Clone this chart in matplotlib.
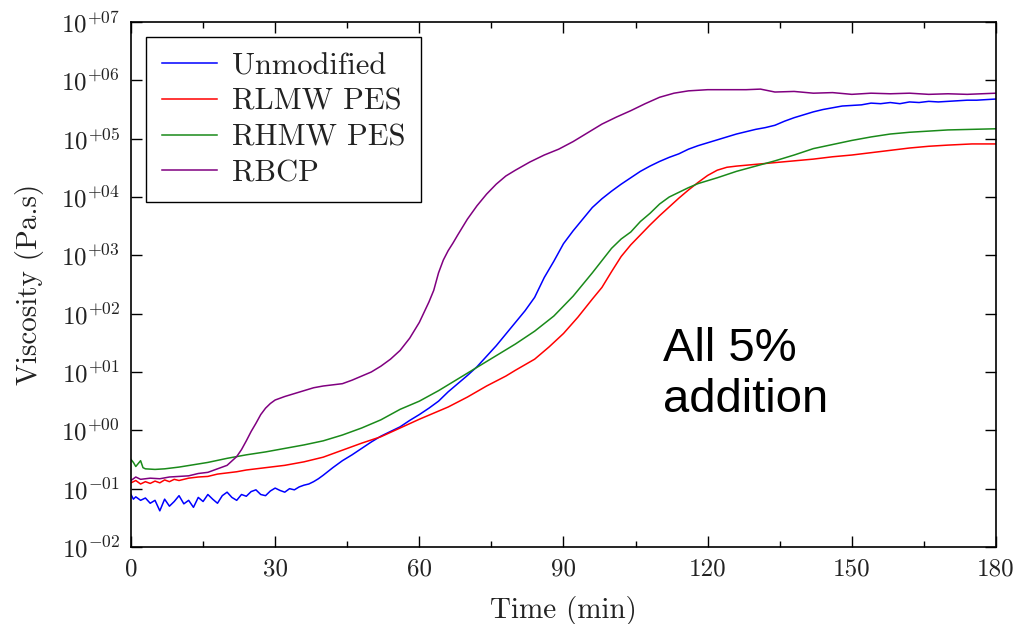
import numpy
import matplotlib
matplotlib.use("Agg")
import matplotlib.pyplot as plt
from matplotlib.ticker import FixedLocator, FuncFormatter

# time (min) and log10 of viscosity (Pa.s)
t_unmod = [0, 0.5, 1, 2, 3, 4, 5, 6, 7, 8, 9, 10, 11, 12, 13, 14, 15, 16, 17, 18, 19,
           20, 21, 22, 23, 24, 25, 26, 27, 28, 29, 30, 31, 32, 33, 34, 35, 36, 37, 38,
           39, 40, 42, 44, 46, 48, 50, 52, 54, 56, 58, 60, 62, 64, 66, 68, 70, 72, 74,
           76, 78, 80, 82, 84, 86, 88, 90, 92, 94, 96, 98, 100, 102, 104, 106, 108, 110,
           112, 114, 116, 118, 120, 122, 124, 126, 128, 130, 132, 134, 136, 138, 140,
           142, 144, 146, 148, 150, 152, 154, 156, 158, 160, 162, 164, 166, 168, 170,
           172, 174, 176, 178, 180]
log_unmod = [-1.10, -1.18, -1.14, -1.20, -1.16, -1.25, -1.20, -1.38, -1.18, -1.30, -1.22,
             -1.12, -1.26, -1.20, -1.32, -1.15, -1.22, -1.10, -1.18, -1.25, -1.12, -1.06,
             -1.15, -1.20, -1.10, -1.13, -1.05, -1.02, -1.10, -1.12, -1.04, -0.99, -1.03,
             -1.06, -1.00, -1.02, -0.97, -0.94, -0.92, -0.88, -0.83, -0.77, -0.64, -0.52,
             -0.42, -0.31, -0.20, -0.10, -0.02, 0.06, 0.17, 0.27, 0.38, 0.50, 0.66, 0.80,
             0.94, 1.09, 1.27, 1.45, 1.65, 1.85, 2.05, 2.28, 2.62, 2.90, 3.20, 3.42, 3.62,
             3.82, 3.97, 4.10, 4.22, 4.33, 4.44, 4.53, 4.61, 4.68, 4.74, 4.82, 4.88, 4.93,
             4.98, 5.03, 5.08, 5.12, 5.16, 5.19, 5.23, 5.30, 5.36, 5.41, 5.46, 5.50, 5.53,
             5.56, 5.57, 5.58, 5.61, 5.60, 5.62, 5.60, 5.63, 5.62, 5.64, 5.63, 5.64, 5.65,
             5.66, 5.66, 5.67, 5.68]

t_rlmw = [0, 1, 2, 3, 4, 5, 6, 7, 8, 9, 10, 12, 14, 16, 18, 20, 22, 24, 26, 28, 30, 32,
          34, 36, 38, 40, 44, 48, 52, 56, 60, 64, 66, 70, 74, 78, 80, 84, 87, 90, 93, 96,
          98, 100, 102, 104, 106, 108, 110, 112, 114, 116, 118, 120, 122, 124, 126, 130,
          134, 138, 142, 146, 150, 154, 158, 162, 166, 170, 175, 180]
log_rlmw = [-0.90, -0.86, -0.92, -0.88, -0.91, -0.87, -0.90, -0.85, -0.88, -0.84, -0.86,
            -0.82, -0.80, -0.79, -0.75, -0.73, -0.71, -0.68, -0.66, -0.64, -0.62, -0.60,
            -0.57, -0.54, -0.50, -0.46, -0.34, -0.22, -0.11, 0.04, 0.19, 0.33, 0.40, 0.57,
            0.76, 0.93, 1.03, 1.22, 1.43, 1.66, 1.94, 2.25, 2.45, 2.72, 2.98, 3.18, 3.35,
            3.52, 3.68, 3.83, 3.98, 4.12, 4.25, 4.37, 4.46, 4.51, 4.53, 4.56, 4.59, 4.62,
            4.65, 4.69, 4.72, 4.76, 4.80, 4.84, 4.87, 4.89, 4.91, 4.91]

t_rhmw = [0, 0.5, 1, 1.5, 2, 2.5, 3, 5, 7, 10, 13, 16, 20, 24, 28, 32, 36, 40, 44, 48, 52,
          56, 60, 64, 68, 72, 76, 80, 84, 88, 92, 96, 100, 102, 104, 106, 108, 110, 112,
          114, 116, 118, 122, 126, 130, 134, 138, 142, 146, 150, 154, 158, 162, 166, 170,
          175, 180]
log_rhmw = [-0.50, -0.55, -0.62, -0.57, -0.52, -0.64, -0.66, -0.67, -0.66, -0.63, -0.59,
            -0.55, -0.48, -0.42, -0.37, -0.31, -0.25, -0.18, -0.08, 0.04, 0.18, 0.36, 0.50,
            0.68, 0.88, 1.08, 1.28, 1.48, 1.70, 1.96, 2.30, 2.70, 3.12, 3.28, 3.40, 3.58,
            3.72, 3.88, 4.00, 4.08, 4.16, 4.23, 4.33, 4.44, 4.53, 4.62, 4.72, 4.83, 4.90,
            4.97, 5.03, 5.08, 5.11, 5.13, 5.15, 5.16, 5.17]

t_rbcp = [0, 1, 2, 4, 6, 8, 10, 12, 14, 16, 18, 20, 22, 23, 24, 25, 26, 27, 28, 29, 30, 32,
          34, 36, 38, 40, 42, 44, 46, 48, 50, 52, 54, 56, 58, 60, 62, 63, 64, 65, 66, 67,
          68, 70, 72, 74, 76, 78, 80, 83, 86, 89, 92, 95, 98, 101, 104, 107, 110, 113,
          116, 120, 124, 128, 131, 134, 138, 142, 146, 150, 154, 158, 162, 166, 170, 174,
          177, 180]
log_rbcp = [-0.86, -0.80, -0.84, -0.82, -0.83, -0.80, -0.79, -0.78, -0.74, -0.72, -0.66,
            -0.60, -0.45, -0.33, -0.18, -0.02, 0.12, 0.27, 0.38, 0.46, 0.52, 0.58, 0.63,
            0.68, 0.73, 0.76, 0.78, 0.80, 0.86, 0.93, 1.00, 1.10, 1.22, 1.37, 1.58, 1.85,
            2.20, 2.40, 2.70, 2.92, 3.08, 3.21, 3.35, 3.62, 3.85, 4.05, 4.22, 4.36, 4.46,
            4.60, 4.72, 4.82, 4.95, 5.10, 5.25, 5.37, 5.48, 5.60, 5.71, 5.78, 5.82, 5.84,
            5.84, 5.84, 5.85, 5.80, 5.81, 5.78, 5.79, 5.76, 5.78, 5.77, 5.78, 5.76, 5.77,
            5.76, 5.77, 5.78]

labels = ["Unmodified", "RLMW PES", "RHMW PES", "RBCP"]
colors = ["#0000ff", "#ff0000", "#1a8a1a", "#800080"]

x_major = [0, 30, 60, 90, 120, 150, 180]
x_minor = [15, 45, 75, 105, 135, 165]
y_decades = list(range(-2, 8))

plt.rcParams["font.family"] = "cmr10"
plt.rcParams["mathtext.fontset"] = "cm"
plt.rcParams["axes.unicode_minus"] = False
txt_col = "#222222"

fig = plt.figure(figsize=(10.13, 6.24), dpi=100)
ax = fig.add_axes([0.1293, 0.1234, 0.8539, 0.8413])

series = [(t_unmod, log_unmod), (t_rlmw, log_rlmw), (t_rhmw, log_rhmw), (t_rbcp, log_rbcp)]
for (t, lv), lab, col in zip(series, labels, colors):
    ax.plot(t, 10 ** numpy.array(lv), color=col, lw=1.1, label=lab)

ax.set_yscale("log")
ax.set_xlim(0, 180)
ax.set_ylim(1e-2, 1e7)

ax.xaxis.set_major_locator(FixedLocator(x_major))
ax.xaxis.set_minor_locator(FixedLocator(x_minor))
ax.yaxis.set_major_locator(FixedLocator([10.0 ** d for d in y_decades]))
ax.yaxis.set_minor_locator(FixedLocator([]))
ax.yaxis.set_major_formatter(FuncFormatter(
    lambda v, p: r"$10^{%+03d}$" % int(round(numpy.log10(v)))))

ax.tick_params(which="both", direction="in", top=True, right=True, width=1.0)
ax.tick_params(which="major", length=8, labelsize=18, pad=8, labelcolor=txt_col)
ax.tick_params(which="minor", length=4)
for s in ax.spines.values():
    s.set_linewidth(1.2)

ax.set_xlabel("Time (min)", fontsize=21, labelpad=11, color=txt_col)
ax.set_ylabel("Viscosity (Pa.s)", fontsize=21, labelpad=12, color=txt_col)

leg = ax.legend(loc="upper left", fontsize=22, fancybox=False, framealpha=1,
                edgecolor="black", borderaxespad=0.5, handlelength=1.8,
                handletextpad=0.5, labelspacing=0.27, borderpad=0.5)
leg.get_frame().set_linewidth(1.0)
for tx in leg.get_texts():
    tx.set_color(txt_col)

ax.text(0.615, 0.257, "All 5%\naddition", transform=ax.transAxes, fontsize=34,
        family="Liberation Sans", va="baseline", linespacing=1.22)

fig.savefig("out.png", dpi=100)
